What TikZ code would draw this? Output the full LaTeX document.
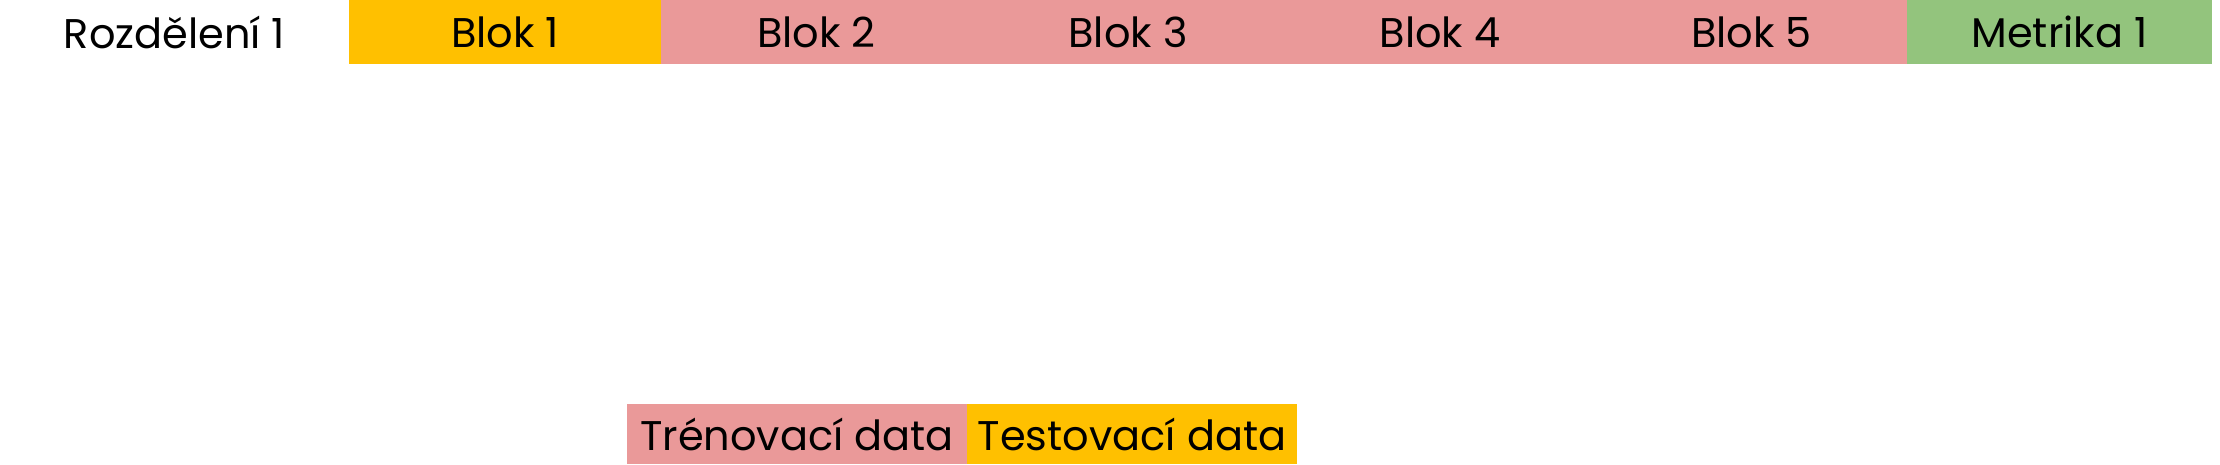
\documentclass[tikz,border=0pt]{standalone}
\usepackage{fontspec}
\setmainfont{Poppins}
\definecolor{zluta}{HTML}{FFC000}
\definecolor{ruzova}{HTML}{EA9999}
\definecolor{zelena}{HTML}{93C47D}
\tikzset{bunka/.style={rectangle,inner sep=0pt,outer sep=0pt,minimum height=0.64cm,font=\fontsize{11.8}{13}\selectfont}}
\begin{document}
\begin{tikzpicture}
\useasboundingbox (0,0) rectangle (22.2,-4.64);

\node[bunka,minimum width=3.49cm] (0) at (1.745,-0.32) {Rozdělení 1};

\node[bunka,fill=zluta,minimum width=3.12cm] (1) at (5.05,-0.32) {Blok 1};

\node[bunka,fill=ruzova,minimum width=3.11cm] (2) at (8.165,-0.32) {Blok 2};

\node[bunka,fill=ruzova,minimum width=3.12cm] (3) at (11.28,-0.32) {Blok 3};

\node[bunka,fill=ruzova,minimum width=3.12cm] (4) at (14.40,-0.32) {Blok 4};

\node[bunka,fill=ruzova,minimum width=3.11cm] (5) at (17.515,-0.32) {Blok 5};

\node[bunka,fill=zelena,minimum width=3.05cm] (6) at (20.595,-0.32) {Metrika 1};

\node[bunka,fill=ruzova,minimum width=3.40cm,minimum height=0.60cm] (7) at (7.97,-4.34) {Trénovací data};

\node[bunka,fill=zluta,minimum width=3.30cm,minimum height=0.60cm] (8) at (11.32,-4.34) {Testovací data};

\end{tikzpicture}
\end{document}
